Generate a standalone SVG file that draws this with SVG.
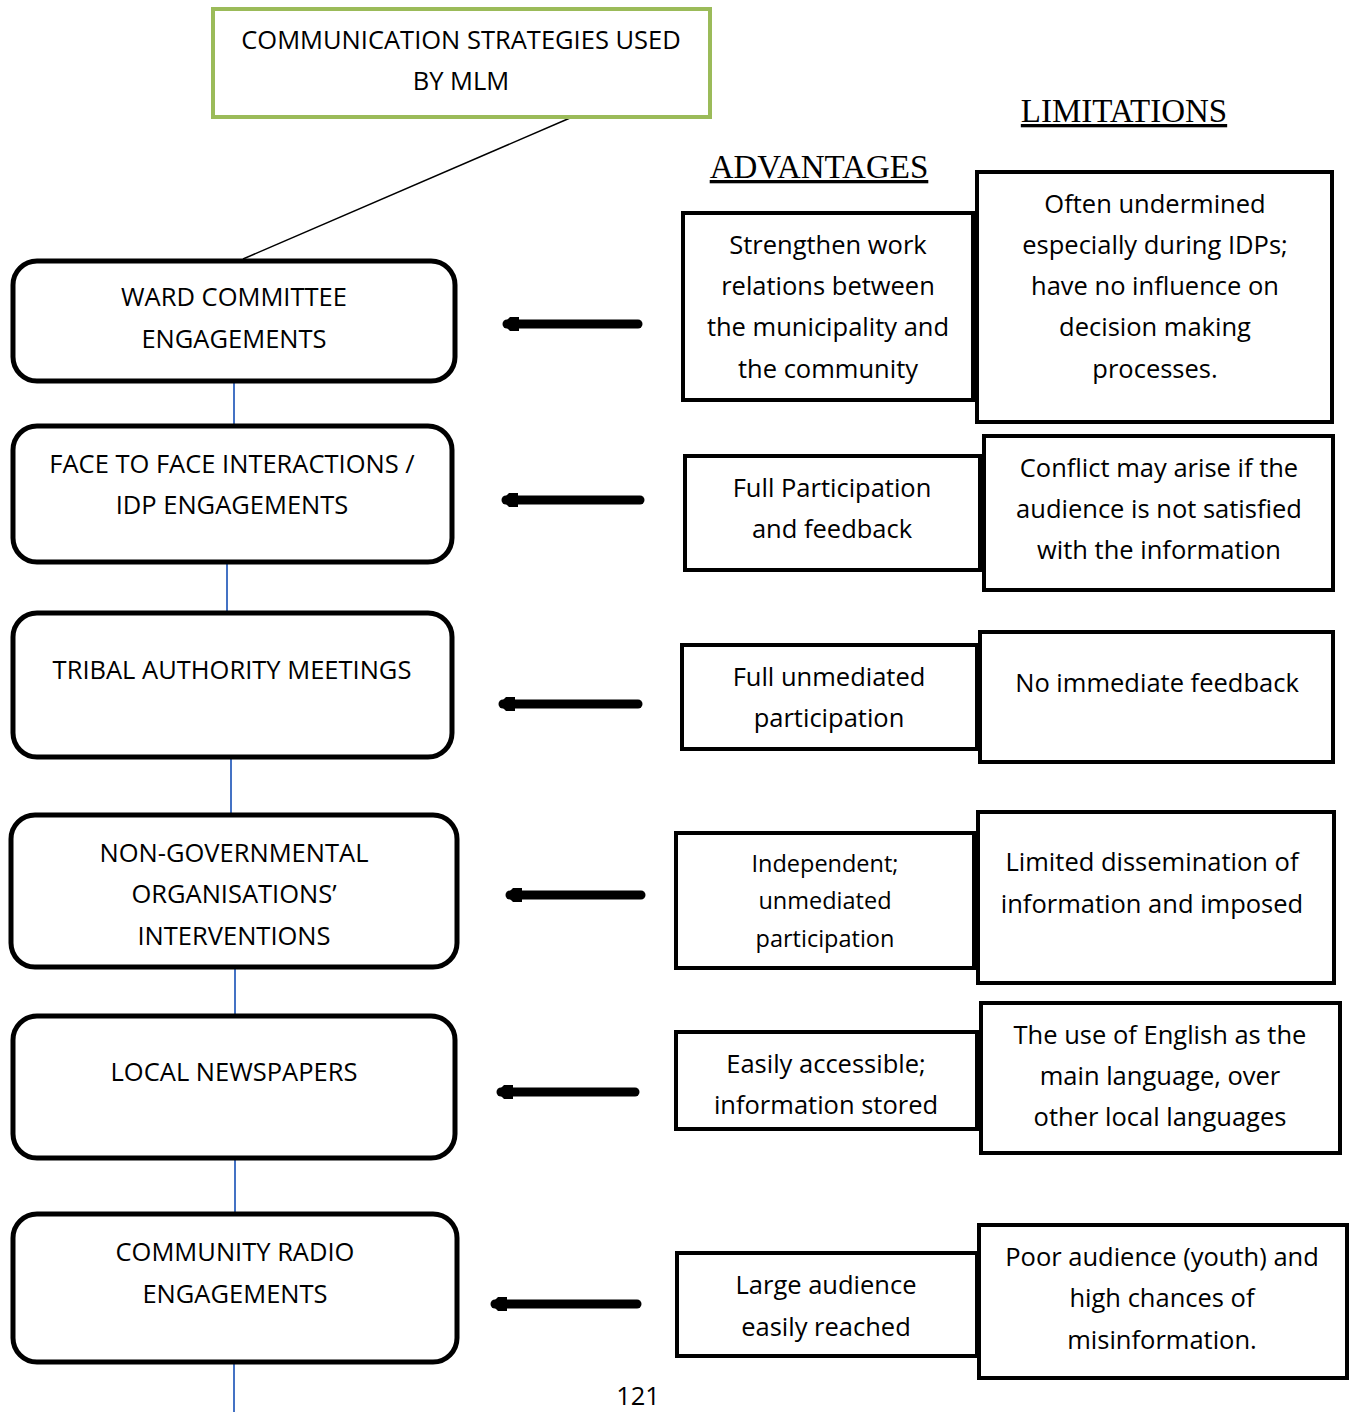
<svg xmlns="http://www.w3.org/2000/svg" width="1351" height="1412" viewBox="0 0 1351 1412">
<defs>
<marker id="ah" markerUnits="userSpaceOnUse" markerWidth="16" markerHeight="18" refX="12" refY="9" orient="auto" viewBox="0 0 16 18">
<path d="M16,9 L9,2 L0,2 L0,16 L9,16 Z" fill="#000"/>
</marker>
<style>
.t{font-family:"Open Sans","Liberation Sans",sans-serif;font-size:25.5px;fill:#000;text-anchor:middle}
.s{font-size:23.5px}
.h{font-family:"Liberation Serif",serif;font-size:33px;fill:#000;text-anchor:middle;text-decoration:underline}
.lb{fill:#fff;stroke:#000;stroke-width:5}
.bx{fill:#fff;stroke:#000;stroke-width:4}
.cn{stroke:#4472C4;stroke-width:2;fill:none}
.ar{stroke:#000;stroke-width:9;stroke-linecap:round;fill:none}
</style>
</defs>
<rect width="1351" height="1412" fill="#fff"/>
<g id="connectors">
<line x1="570" y1="118" x2="243" y2="259" stroke="#000" stroke-width="1.5"/>
<line class="cn" x1="234" y1="381" x2="234" y2="426"/>
<line class="cn" x1="227" y1="562" x2="227" y2="613"/>
<line class="cn" x1="231" y1="757" x2="231" y2="815"/>
<line class="cn" x1="235" y1="960" x2="235" y2="1016"/>
<line class="cn" x1="235" y1="1158" x2="235" y2="1214"/>
<line class="cn" x1="234" y1="1362" x2="234" y2="1412"/>
<line class="ar" x1="638" y1="324" x2="507" y2="324" marker-end="url(#ah)"/>
<line class="ar" x1="640" y1="500" x2="506" y2="500" marker-end="url(#ah)"/>
<line class="ar" x1="638" y1="704" x2="503" y2="704" marker-end="url(#ah)"/>
<line class="ar" x1="641" y1="895" x2="510" y2="895" marker-end="url(#ah)"/>
<line class="ar" x1="635" y1="1092" x2="501" y2="1092" marker-end="url(#ah)"/>
<line class="ar" x1="637" y1="1304" x2="495" y2="1304" marker-end="url(#ah)"/>
</g>
<g id="title">
<rect x="213" y="9" width="497" height="108" fill="#fff" stroke="#9BBB59" stroke-width="4"/>
<text class="t" x="461" y="40" dy="9">COMMUNICATION STRATEGIES USED</text>
<text class="t" x="461" y="81" dy="9">BY MLM</text>
</g>
<g id="headings">
<text class="h" x="1124" y="122">LIMITATIONS</text>
<text class="h" x="819" y="178">ADVANTAGES</text>
</g>
<g id="strategy1">
<rect class="lb" x="13" y="261" width="442" height="120" rx="24"/>
<text class="t" x="234" y="297" dy="9">WARD COMMITTEE</text>
<text class="t" x="234" y="339" dy="9">ENGAGEMENTS</text>
</g>
<g id="strategy2">
<rect class="lb" x="13" y="426" width="439" height="136" rx="24"/>
<text class="t" x="232" y="464" dy="9">FACE TO FACE INTERACTIONS /</text>
<text class="t" x="232" y="505" dy="9">IDP ENGAGEMENTS</text>
</g>
<g id="strategy3">
<rect class="lb" x="13" y="613" width="439" height="144" rx="24"/>
<text class="t" x="232" y="670" dy="9">TRIBAL AUTHORITY MEETINGS</text>
</g>
<g id="strategy4">
<rect class="lb" x="11" y="815" width="446" height="152" rx="24"/>
<text class="t" x="234" y="853" dy="9">NON-GOVERNMENTAL</text>
<text class="t" x="234" y="894" dy="9">ORGANISATIONS’</text>
<text class="t" x="234" y="936" dy="9">INTERVENTIONS</text>
</g>
<g id="strategy5">
<rect class="lb" x="13" y="1016" width="442" height="142" rx="24"/>
<text class="t" x="234" y="1072" dy="9">LOCAL NEWSPAPERS</text>
</g>
<g id="strategy6">
<rect class="lb" x="13" y="1214" width="444" height="148" rx="24"/>
<text class="t" x="235" y="1252" dy="9">COMMUNITY RADIO</text>
<text class="t" x="235" y="1294" dy="9">ENGAGEMENTS</text>
</g>
<g id="adv1">
<rect class="bx" x="683" y="213" width="290" height="187"/>
<text class="t" x="828" y="245" dy="9">Strengthen work</text>
<text class="t" x="828" y="286" dy="9">relations between</text>
<text class="t" x="828" y="327" dy="9">the municipality and</text>
<text class="t" x="828" y="369" dy="9">the community</text>
</g>
<g id="adv2">
<rect class="bx" x="685" y="456" width="295" height="114"/>
<text class="t" x="832" y="488" dy="9">Full Participation</text>
<text class="t" x="832" y="529" dy="9">and feedback</text>
</g>
<g id="adv3">
<rect class="bx" x="682" y="645" width="295" height="104"/>
<text class="t" x="829" y="677" dy="9">Full unmediated</text>
<text class="t" x="829" y="718" dy="9">participation</text>
</g>
<g id="adv4">
<rect class="bx" x="676" y="833" width="298" height="135"/>
<text class="t s" x="825" y="864" dy="8">Independent;</text>
<text class="t s" x="825" y="901" dy="8">unmediated</text>
<text class="t s" x="825" y="939" dy="8">participation</text>
</g>
<g id="adv5">
<rect class="bx" x="676" y="1032" width="301" height="97"/>
<text class="t" x="826" y="1064" dy="9">Easily accessible;</text>
<text class="t" x="826" y="1105" dy="9">information stored</text>
</g>
<g id="adv6">
<rect class="bx" x="677" y="1253" width="300" height="103"/>
<text class="t" x="826" y="1285" dy="9">Large audience</text>
<text class="t" x="826" y="1327" dy="9">easily reached</text>
</g>
<g id="lim1">
<rect class="bx" x="977" y="172" width="355" height="250"/>
<text class="t" x="1155" y="204" dy="9">Often undermined</text>
<text class="t" x="1155" y="245" dy="9">especially during IDPs;</text>
<text class="t" x="1155" y="286" dy="9">have no influence on</text>
<text class="t" x="1155" y="327" dy="9">decision making</text>
<text class="t" x="1155" y="369" dy="9">processes.</text>
</g>
<g id="lim2">
<rect class="bx" x="984" y="436" width="349" height="154"/>
<text class="t" x="1159" y="468" dy="9">Conflict may arise if the</text>
<text class="t" x="1159" y="509" dy="9">audience is not satisfied</text>
<text class="t" x="1159" y="550" dy="9">with the information</text>
</g>
<g id="lim3">
<rect class="bx" x="980" y="632" width="353" height="130"/>
<text class="t" x="1157" y="683" dy="9">No immediate feedback</text>
</g>
<g id="lim4">
<rect class="bx" x="978" y="812" width="356" height="171"/>
<text class="t" x="1152" y="862" dy="9">Limited dissemination of</text>
<text class="t" x="1152" y="904" dy="9">information and imposed</text>
</g>
<g id="lim5">
<rect class="bx" x="981" y="1003" width="359" height="150"/>
<text class="t" x="1160" y="1035" dy="9">The use of English as the</text>
<text class="t" x="1160" y="1076" dy="9">main language, over</text>
<text class="t" x="1160" y="1117" dy="9">other local languages</text>
</g>
<g id="lim6">
<rect class="bx" x="979" y="1225" width="368" height="153"/>
<text class="t" x="1162" y="1257" dy="9">Poor audience (youth) and</text>
<text class="t" x="1162" y="1298" dy="9">high chances of</text>
<text class="t" x="1162" y="1340" dy="9">misinformation.</text>
</g>
<text class="t" x="638" y="1396" dy="9">121</text>
</svg>
